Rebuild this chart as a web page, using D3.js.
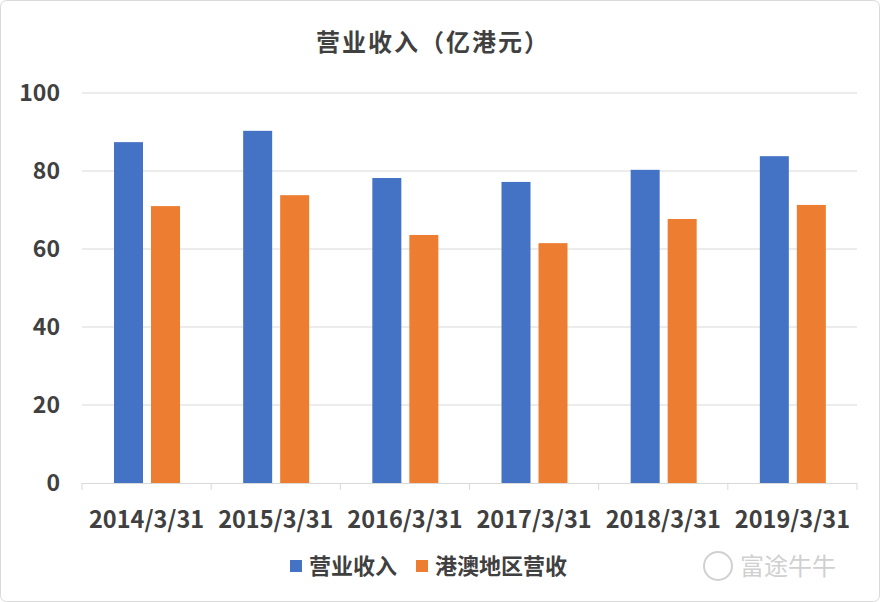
<!DOCTYPE html>
<html lang="zh">
<head>
<meta charset="UTF-8">
<title>营业收入（亿港元）</title>
<script src="https://d3js.org/d3.v7.min.js"></script>
<style>
  body { margin: 0; background: #fff; }
  svg text { font-family: "Noto Sans CJK SC", "Liberation Sans", sans-serif; }
</style>
</head>
<body>
<script>
  const categories = ["2014/3/31", "2015/3/31", "2016/3/31", "2017/3/31", "2018/3/31", "2019/3/31"];
  const revenue = [87.4, 90.3, 78.2, 77.2, 80.3, 83.8];
  const hkMacau = [71.0, 73.8, 63.6, 61.5, 67.7, 71.3];
  const seriesNames = ["营业收入", "港澳地区营收"];
  const colors = ["#4472c4", "#ed7d31"];
  const yTicks = [0, 20, 40, 60, 80, 100];

  const width = 880, height = 602;
  const svg = d3.select("body").append("svg")
      .attr("width", width).attr("height", height);

  svg.append("rect")
      .attr("x", 0.5).attr("y", 0.5).attr("width", width - 1).attr("height", height - 1)
      .attr("rx", 6).attr("fill", "#fff").attr("stroke", "#d9d9d9");

  svg.append("text")
      .attr("x", 433).attr("y", 51).attr("text-anchor", "middle")
      .attr("font-size", 24).attr("font-weight", "bold").attr("fill", "#404040")
      .attr("letter-spacing", 2)
      .text("营业收入（亿港元）");

  const x = d3.scaleBand().domain(categories).range([82, 857]);
  const y = d3.scaleLinear().domain([0, 100]).range([483, 93]);

  // gridlines
  svg.selectAll(".grid").data(yTicks.slice(1)).enter().append("line")
      .attr("x1", 82).attr("x2", 857)
      .attr("y1", d => y(d)).attr("y2", d => y(d))
      .attr("stroke", "#d9d9d9");

  svg.selectAll(".ylab").data(yTicks).enter().append("text")
      .attr("x", 60).attr("y", d => y(d) + 8).attr("text-anchor", "end")
      .attr("font-size", 23).attr("font-weight", "bold").attr("fill", "#404040")
      .text(d => d);

  // x axis
  svg.append("line").attr("x1", 82).attr("x2", 857).attr("y1", 483.5).attr("y2", 483.5)
      .attr("stroke", "#d9d9d9");
  svg.selectAll(".xtick").data(categories.concat([null])).enter().append("line")
      .attr("x1", (d, i) => 82 + i * x.bandwidth()).attr("x2", (d, i) => 82 + i * x.bandwidth())
      .attr("y1", 483).attr("y2", 490).attr("stroke", "#d9d9d9");
  svg.selectAll(".xlab").data(categories).enter().append("text")
      .attr("x", d => x(d) + x.bandwidth() / 2).attr("y", 528).attr("text-anchor", "middle")
      .attr("font-size", 23.5).attr("font-weight", "bold").attr("fill", "#404040")
      .text(d => d);

  const barW = 29, off = 32, gap = 8;
  [revenue, hkMacau].forEach((vals, s) => {
    svg.selectAll(".bar" + s).data(vals).enter().append("rect")
        .attr("x", (d, i) => x(categories[i]) + off + s * (barW + gap))
        .attr("y", d => y(d)).attr("width", barW)
        .attr("height", d => y(0) - y(d))
        .attr("fill", colors[s]);
  });

  // legend
  const legX = [290, 416];
  seriesNames.forEach((n, i) => {
    svg.append("rect").attr("x", legX[i]).attr("y", 560).attr("width", 12).attr("height", 12)
        .attr("fill", colors[i]);
    svg.append("text").attr("x", legX[i] + 19).attr("y", 574)
        .attr("font-size", 22).attr("font-weight", "bold").attr("fill", "#404040").text(n);
  });

  // watermark
  svg.append("circle").attr("cx", 718).attr("cy", 566).attr("r", 14)
      .attr("fill", "none").attr("stroke", "#d0d0d0").attr("stroke-width", 2);
  svg.append("text").attr("x", 740).attr("y", 575)
      .attr("font-size", 24).attr("fill", "#d0d0d0").text("富途牛牛");
</script>
</body>
</html>
